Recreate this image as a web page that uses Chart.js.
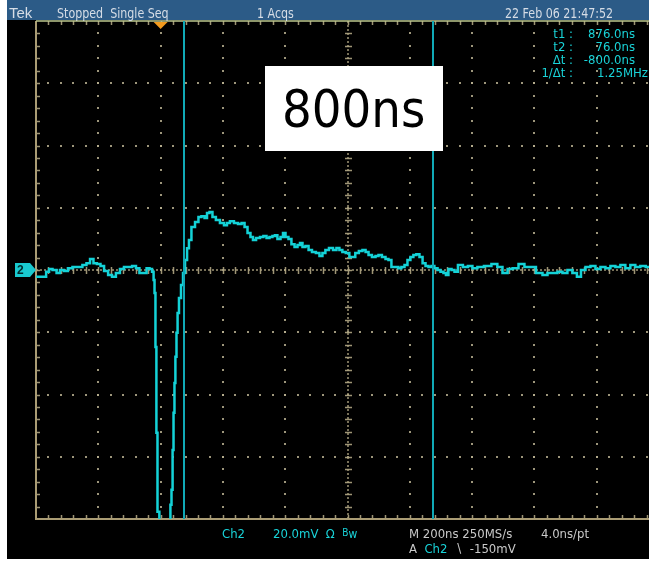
<!DOCTYPE html>
<html>
<head>
<meta charset="utf-8">
<script src="https://cdn.jsdelivr.net/npm/chart.js@4/dist/chart.umd.min.js"></script>
<style>
  html, body { margin: 0; padding: 0; background: #fff; }
  #wrap { position: relative; width: 649px; height: 562px; overflow: hidden; }
  #scope { position: absolute; left: 0; top: 0; }
  .t { position: absolute; white-space: pre; line-height: 1;
       font-family: "DejaVu Sans Condensed", "DejaVu Sans", sans-serif; }
  .hdr { color: #d6dde6; font-size: 14px; transform: scaleX(0.88); transform-origin: 0 0; }
  .cy { color: #19d3d8; font-size: 13px; }
  .gy { color: #c9c9c9; font-size: 13px; }
  .r { text-align: right; }
  #big { position: absolute; left: 265px; top: 66px; width: 178px; height: 85px; background: #fff;
         display: flex; align-items: center; justify-content: center;
         font-family: "DejaVu Sans", Verdana, sans-serif; font-size: 52px; color: #000; }
  #big span { display: inline-block; transform: scaleX(0.9); }
  #chmark { position: absolute; left: 17px; top: 263px; font: bold 12px "Liberation Sans", sans-serif; color: #002a2c; }
</style>
</head>
<body>
<div id="wrap">
  <canvas id="scope" width="680" height="562"></canvas>

  <!-- status bar -->
  <div class="t hdr" style="left:9px;top:5px;font-family:'Liberation Sans',sans-serif;font-size:15px;transform:none">Tek</div>
  <div class="t hdr" style="left:57px;top:6px;">Stopped  Single Seq</div>
  <div class="t hdr" style="left:257px;top:6px;">1 Acqs</div>
  <div class="t hdr" style="left:505px;top:6px;">22 Feb 06 21:47:52</div>

  <!-- cursor readouts -->
  <div class="t cy r" style="right:76px;top:27px;">t1 :</div>
  <div class="t cy r" style="right:14px;top:27px;">876.0ns</div>
  <div class="t cy r" style="right:76px;top:40px;">t2 :</div>
  <div class="t cy r" style="right:14px;top:40px;">76.0ns</div>
  <div class="t cy r" style="right:76px;top:53px;">&#916;t :</div>
  <div class="t cy r" style="right:14px;top:53px;">-800.0ns</div>
  <div class="t cy r" style="right:76px;top:66px;">1/&#916;t :</div>
  <div class="t cy r" style="right:1px;top:66px;">1.25MHz</div>

  <!-- annotation -->
  <div id="big"><span>800ns</span></div>

  <!-- channel marker -->
  <div id="chmark">2</div>

  <!-- bottom settings -->
  <div class="t cy" style="left:222px;top:527px;">Ch2</div>
  <div class="t cy" style="left:273px;top:527px;">20.0mV  &#937;  <span style="font-size:10px;position:relative;top:-2px">B</span><span style="font-size:12px">w</span></div>
  <div class="t gy" style="left:409px;top:527px;">M 200ns 250MS/s</div>
  <div class="t gy" style="left:541px;top:527px;">4.0ns/pt</div>
  <div class="t gy" style="left:409px;top:542px;">A  <span style="color:#19d3d8">Ch2</span>  &#8726;  -150mV</div>
</div>

<script>
// Channel 2 record: time relative to trigger (ns) and voltage (mV)
const timesNs = [-400,-387,-374,-361,-355,-339,-329,-317,-304,-291,-275,-259,-243,-233,-220,-211,-198,-188,-175,-162,
  -150,-137,-124,-111,-98,-85,-73,-63,-50,-40,-31,-24,-21,-18,-15,-12,-8,0,8,16,24,30,
  33,37,40,43,46,49,53,56,62,69,75,82,88,94,104,117,126,136,146,152,162,171,184,197,210,216,229,242,255,265,274,284,293,300,
  313,325,335,345,354,364,370,380,390,396,406,415,425,435,444,451,460,470,480,492,505,515,524,534,547,560,569,579,588,
  601,611,620,630,643,653,663,672,685,695,704,717,727,736,746,759,768,778,788,797,807,816,826,836,846,855,865,874,884,
  894,903,913,919,929,939,948,961,980,993,1009,1025,1051,1073,1089,1106,1122,1138,1160,1176,1192,1218,1234,1250,1266,
  1282,1298,1314,1330,1343,1356,1372,1388,1404,1420,1436,1452,1468,1484,1500,1516,1532,1548,1567,1586,1600];
const voltsMv = [-2.2,-2.2,-2.2,-0.6,0.3,0,-1.0,0,-0.3,0.6,1.0,1.0,1.6,2.2,3.5,2.2,1.9,1.3,-0.3,-1.6,
  -2.2,-1.0,0.3,1.0,1.0,1.3,0.6,-1.0,-1.0,0.6,0.3,-0.6,-3.2,-7.4,-24.7,-52.3,-77.7,-150,-175,-180,-140,-85,
  -75.4,-70.6,-57.8,-45.9,-36.3,-27.9,-20.2,-13.8,-9.0,-4.8,-1.0,3.2,7.0,9.6,13.8,15.4,17.0,17.3,16.7,18.3,18.6,17.0,16.1,15.1,14.4,15.1,15.7,15.1,14.8,15.1,13.8,11.9,10.6,9.6,
  10.3,10.6,10.9,10.3,10.6,10.9,11.2,10.0,10.6,11.9,10.6,10.0,8.3,7.4,8.0,8.7,7.4,7.7,6.4,5.8,5.5,4.5,5.5,6.4,7.1,6.4,7.1,6.4,5.8,
  5.5,4.2,4.2,5.5,6.1,6.4,5.8,4.8,4.2,4.5,4.8,4.2,3.5,3.2,1.0,1.0,0.6,1.0,1.6,3.2,4.2,4.8,5.1,4.2,2.2,1.3,1.0,1.3,0.6,
  0,-0.6,-1.0,-1.6,0.3,0,-0.6,1.6,1.0,1.3,0.6,1.0,1.3,1.9,1.0,-1.0,0.3,0.6,1.9,1.0,1.0,-1.0,-1.6,-1.0,-1.0,
  -0.6,-1.0,0,-1.0,-2.2,0,1.0,1.3,0.3,1.0,0.6,1.3,1.0,1.6,0.6,1.6,1.0,1.3,1.0,0.6,1.0];

// Cursor positions (ns) and trigger time (ns)
const cursorTimes = [876, 76];
const triggerTime = 0;

// Display settings: 200 ns/div, 20 mV/div, 10 x 8 divisions
const xDivs = [-400,-200,0,200,400,600,800,1000,1200,1400,1600];
const yDivs = [-80,-60,-40,-20,0,20,40,60,80];

const points = timesNs.map((t, i) => ({ x: t, y: voltsMv[i] }));

const scopeFrame = {
  id: 'scopeFrame',
  beforeDraw(chart) {
    const { ctx } = chart;
    const W = chart.width;
    ctx.save();
    ctx.fillStyle = '#ffffff';
    ctx.fillRect(0, 0, W, chart.height);
    ctx.fillStyle = '#000000';
    ctx.fillRect(7, 0, W, 559);
    ctx.fillStyle = '#2c5b87';
    ctx.fillRect(7, 0, W, 20);
    ctx.restore();
  },
  beforeDatasetsDraw(chart) {
    const { ctx, chartArea: a, scales: { x, y } } = chart;
    const xMinor = 40, yMinor = 4;
    const x0 = x.min, x1 = x.max, y0 = y.min, y1 = y.max;
    const xc = (x0 + x1) / 2, yc = (y0 + y1) / 2;
    ctx.save();

    // dotted division lines
    ctx.fillStyle = 'rgba(185,176,145,0.85)';
    xDivs.forEach(v => {
      if (v === x0 || v === x1 || v === xc) return;
      const px = Math.round(x.getPixelForValue(v));
      for (let m = y0 + yMinor; m < y1; m += yMinor) {
        const py = Math.round(y.getPixelForValue(m));
        ctx.fillRect(px - 1, py - 1, 2, 2);
      }
    });
    yDivs.forEach(v => {
      if (v === y0 || v === y1 || v === yc) return;
      const py = Math.round(y.getPixelForValue(v));
      for (let m = x0 + xMinor; m < x1; m += xMinor) {
        const px = Math.round(x.getPixelForValue(m));
        ctx.fillRect(px - 1, py - 1, 2, 2);
      }
    });

    // centre cross with minor ticks
    const cx = Math.round(x.getPixelForValue(xc));
    const cy = Math.round(y.getPixelForValue(yc));
    ctx.strokeStyle = 'rgba(175,165,130,0.9)';
    ctx.lineWidth = 1.5;
    ctx.setLineDash([2, 2]);
    ctx.beginPath();
    ctx.moveTo(a.left, cy); ctx.lineTo(a.right, cy);
    ctx.moveTo(cx, a.top); ctx.lineTo(cx, a.bottom);
    ctx.stroke();
    ctx.setLineDash([]);
    ctx.lineWidth = 1.5;
    ctx.beginPath();
    for (let m = x0 + xMinor; m < x1; m += xMinor) {
      const px = Math.round(x.getPixelForValue(m)) + 0.5;
      ctx.moveTo(px, cy - 3); ctx.lineTo(px, cy + 4);
      ctx.moveTo(px, a.top); ctx.lineTo(px, a.top + 4);
      ctx.moveTo(px, a.bottom); ctx.lineTo(px, a.bottom - 4);
    }
    for (let m = y0 + yMinor; m < y1; m += yMinor) {
      const py = Math.round(y.getPixelForValue(m)) + 0.5;
      ctx.moveTo(cx - 3, py); ctx.lineTo(cx + 4, py);
      ctx.moveTo(a.left, py); ctx.lineTo(a.left + 4, py);
    }
    ctx.stroke();

    // outer frame
    ctx.strokeStyle = '#aa9c74';
    ctx.lineWidth = 2;
    ctx.beginPath();
    ctx.moveTo(a.left, a.top); ctx.lineTo(a.left, a.bottom); ctx.lineTo(a.right, a.bottom);
    ctx.stroke();
    ctx.strokeStyle = '#bdc98f';
    ctx.lineWidth = 1.5;
    ctx.beginPath();
    ctx.moveTo(a.left, a.top); ctx.lineTo(a.right, a.top);
    ctx.stroke();

    // ground reference marker for channel 2
    const gy = Math.round(y.getPixelForValue(0));
    ctx.fillStyle = '#19c9cf';
    ctx.beginPath();
    ctx.moveTo(15, gy - 7); ctx.lineTo(30, gy - 7); ctx.lineTo(36, gy); ctx.lineTo(30, gy + 7); ctx.lineTo(15, gy + 7);
    ctx.closePath();
    ctx.fill();
    ctx.restore();
  },
  afterDatasetsDraw(chart) {
    const { ctx, chartArea: a, scales: { x } } = chart;
    ctx.save();
    ctx.strokeStyle = '#10a9b6';
    ctx.lineWidth = 2;
    cursorTimes.forEach(t => {
      const px = Math.round(x.getPixelForValue(t));
      ctx.beginPath();
      ctx.moveTo(px, a.top); ctx.lineTo(px, a.bottom);
      ctx.stroke();
    });
    // trigger position marker
    const tx = x.getPixelForValue(triggerTime);
    ctx.fillStyle = '#f29a1e';
    ctx.beginPath();
    ctx.moveTo(tx - 7, a.top + 1); ctx.lineTo(tx + 7, a.top + 1); ctx.lineTo(tx, a.top + 8);
    ctx.closePath();
    ctx.fill();
    ctx.restore();
  }
};

new Chart(document.getElementById('scope'), {
  type: 'line',
  data: {
    datasets: [{
      data: points,
      borderColor: '#14d2d7',
      borderWidth: 2.5,
      pointRadius: 0,
      stepped: 'middle',
      fill: false
    }]
  },
  options: {
    responsive: false,
    animation: false,
    devicePixelRatio: 1,
    layout: { padding: { left: 36, top: 21, right: 21, bottom: 43 } },
    plugins: { legend: { display: false }, tooltip: { enabled: false } },
    scales: {
      x: { type: 'linear', min: -400, max: 1600, display: false },
      y: { min: -80, max: 80, display: false }
    }
  },
  plugins: [scopeFrame]
});
</script>
</body>
</html>
